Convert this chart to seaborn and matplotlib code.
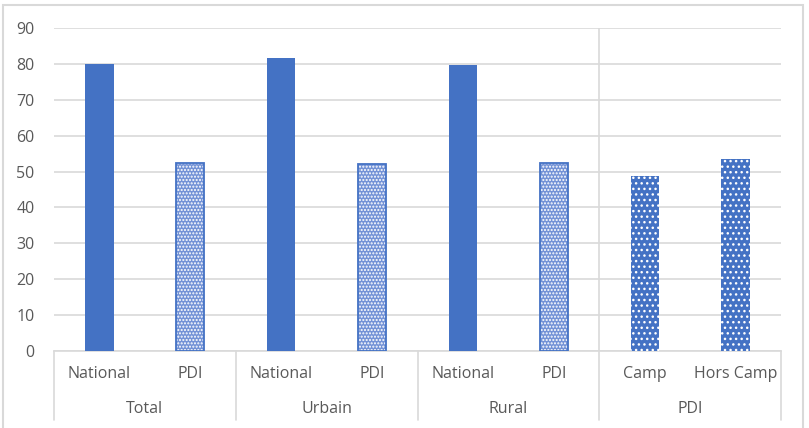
import numpy as np
import pandas as pd
import seaborn as sns
import matplotlib.pyplot as plt
import matplotlib.transforms as mtransforms
from matplotlib.patches import Rectangle

# values
groups = ['Total', 'Urbain', 'Rural', 'PDI']
group_sizes = [2, 2, 2, 2]
subs = ['National', 'PDI', 'National', 'PDI', 'National', 'PDI', 'Camp', 'Hors Camp']
values = [80.1, 52.3, 81.6, 52.1, 79.6, 52.3, 48.8, 53.4]
styles = ['solid', 'light', 'solid', 'light', 'solid', 'light', 'dots', 'dots']

BLUE = '#4472C4'
GRID = '#D9D9D9'
TXT = '#595959'
FS = 11.5

sns.set_theme(style='white')
plt.rcParams['font.family'] = ['Open Sans', 'DejaVu Sans']
plt.rcParams['hatch.linewidth'] = 1.0

keys = [f'{i}_{s}' for i, s in enumerate(subs)]
df = pd.DataFrame({'key': keys, 'value': values})

fig = plt.figure(figsize=(8.09, 4.28), dpi=100)
ax = fig.add_axes([54 / 809, 77 / 428, 727 / 809, 323 / 428])

sns.barplot(data=df, x='key', y='value', order=keys, color=BLUE,
            width=0.31, saturation=1, ax=ax, zorder=3)

for p, st in zip(ax.patches, styles):
    p.set_linewidth(0)
    if st == 'light':
        p.set_facecolor('#7392D6')
        p.set_edgecolor('white')
        p.set_hatch('.....')
        ax.add_patch(Rectangle(p.get_xy(), p.get_width(), p.get_height(),
                               fill=False, edgecolor=BLUE, lw=1.3, zorder=4))
    elif st == 'dots':
        p.set_facecolor(BLUE)
        p.set_edgecolor('white')
        p.set_hatch('...')

ax.set_ylim(0, 90)
ax.set_xlim(-0.5, len(keys) - 0.5)
ax.set_yticks(np.arange(0, 91, 10))
ax.yaxis.grid(True, color=GRID, lw=1.2, zorder=0)
ax.set_axisbelow(True)
ax.set_xlabel('')
ax.set_ylabel('')
ax.set_xticks([])
ax.tick_params(axis='y', length=0, pad=14, labelsize=FS, labelcolor=TXT)
for s in ['top', 'right', 'left']:
    ax.spines[s].set_visible(False)
ax.spines['bottom'].set_color(GRID)
ax.spines['bottom'].set_linewidth(1.2)

# two level category axis
trans = mtransforms.blended_transform_factory(ax.transData, ax.transAxes)
for i, s in enumerate(subs):
    ax.text(i, -0.071, s, transform=trans, ha='center', va='center',
            fontsize=FS, color=TXT)
start = 0
bounds = [-0.5]
for g, n in zip(groups, group_sizes):
    mid = start + (n - 1) / 2
    ax.text(mid, -0.18, g, transform=trans, ha='center', va='center',
            fontsize=FS, color=TXT)
    start += n
    bounds.append(start - 0.5)
for b in bounds:
    ax.plot([b, b], [0, -0.214], transform=trans, color=GRID, lw=1.2,
            clip_on=False)
# separator for the PDI block runs up through the plot area
ax.plot([bounds[3], bounds[3]], [0, 1], transform=trans, color=GRID, lw=1.2,
        zorder=1)

fig.patches.append(Rectangle((3 / 809, -0.02), 800 / 809, 1.02 - 5 / 428,
                             transform=fig.transFigure, fill=False,
                             edgecolor=GRID, lw=1.5))

fig.savefig('out.png', dpi=100)
